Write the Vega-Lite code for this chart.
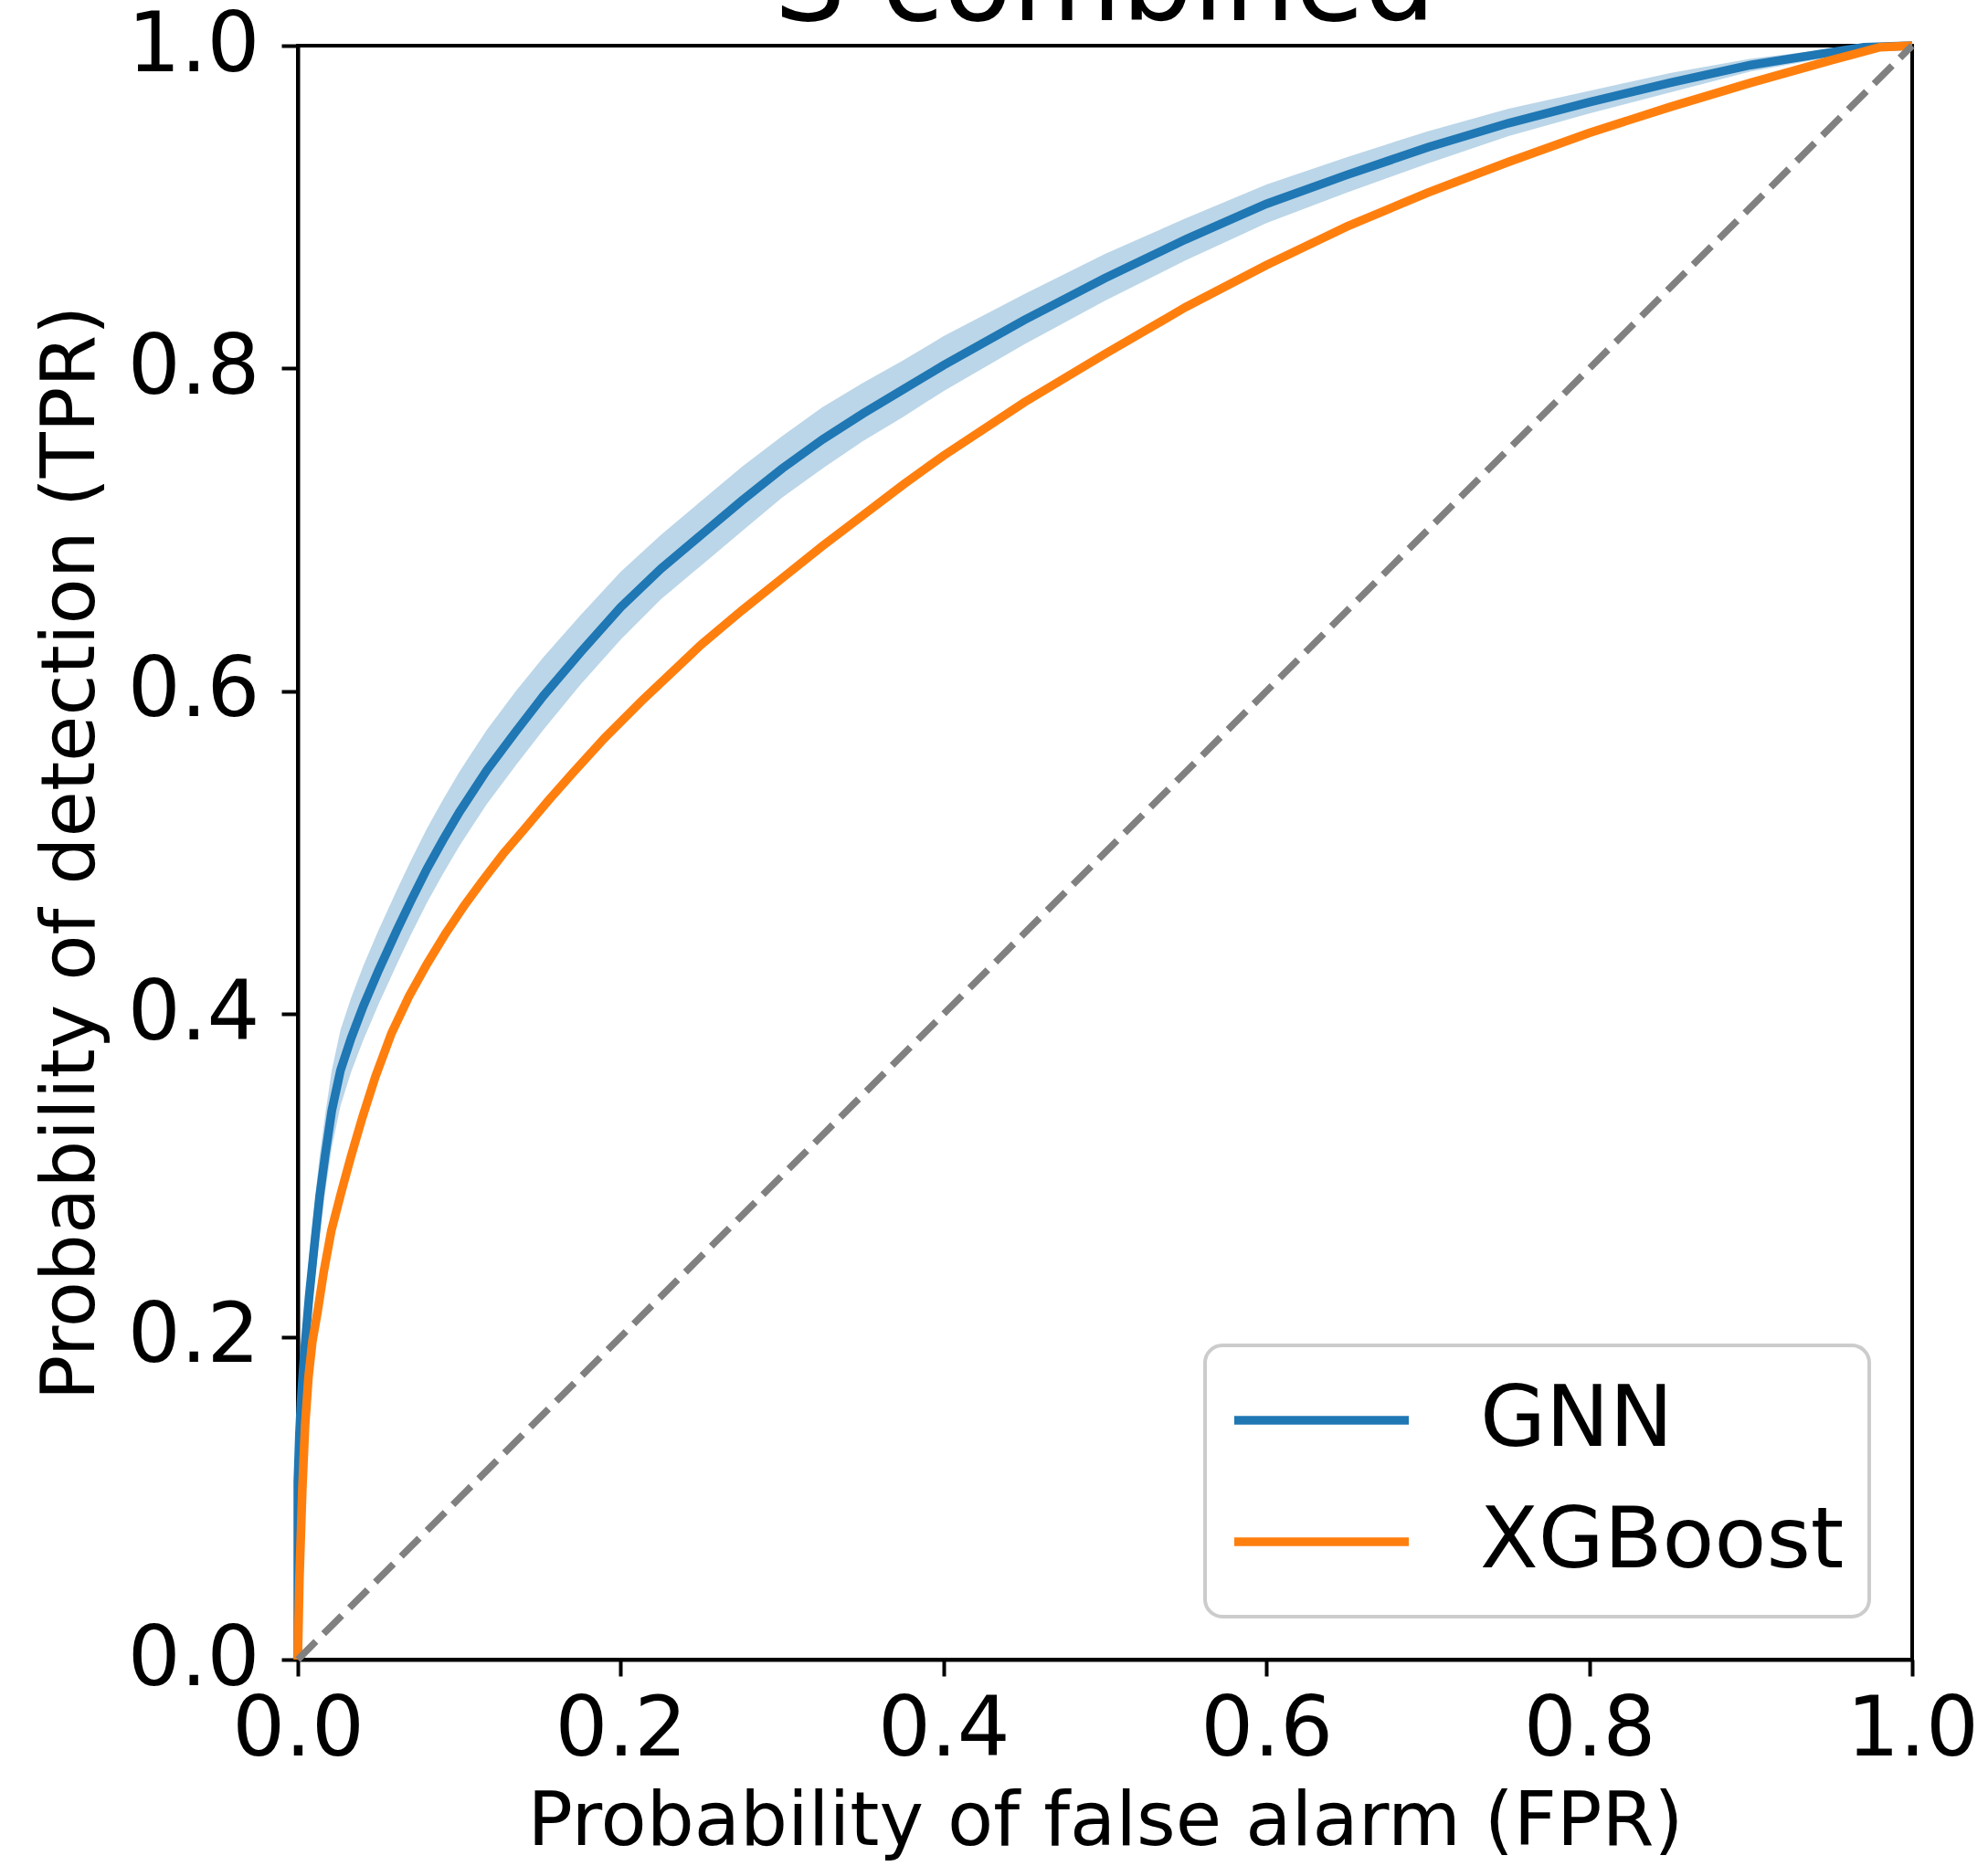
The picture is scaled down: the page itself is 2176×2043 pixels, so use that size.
{
  "$schema": "https://vega.github.io/schema/vega-lite/v6.json",
  "width": 1767,
  "height": 1767,
  "autosize": "none",
  "padding": {"left": 326, "top": 50, "right": 83, "bottom": 226},
  "background": "white",
  "title": {"text": "S combined", "fontSize": 123, "font": "DejaVu Sans", "fontWeight": "normal", "color": "black", "offset": -44, "anchor": "middle", "frame": "group"},
  "config": {
    "view": {"stroke": "black", "strokeWidth": 4},
    "axis": {"domainColor": "black", "domainWidth": 4, "tickColor": "black", "tickWidth": 4, "tickSize": 18, "labelFont": "DejaVu Sans", "labelFontSize": 91, "labelColor": "black", "titleFont": "DejaVu Sans", "titleFontSize": 82, "titleFontWeight": "normal", "titleColor": "black", "grid": false, "labelFlush": false, "labelOverlap": false, "zindex": 1},
    "legend": {"orient": "bottom-right", "offset": 47, "fillColor": "white", "strokeColor": "#cccccc", "strokeWidth": 4, "cornerRadius": 19, "padding": 27, "symbolType": "stroke", "symbolSize": 36481, "symbolStrokeWidth": 9.5, "labelFont": "DejaVu Sans", "labelFontSize": 93, "labelColor": "black", "labelOffset": 73, "labelLimit": 1000, "rowPadding": 23, "clipHeight": 110, "title": null}
  },
  "datasets": {
    "band": [
      {"fpr": 0.0, "lo": 0.0, "hi": 0.15},
      {"fpr": 0.001, "lo": 0.115, "hi": 0.165},
      {"fpr": 0.002, "lo": 0.135, "hi": 0.185},
      {"fpr": 0.004, "lo": 0.165, "hi": 0.215},
      {"fpr": 0.007, "lo": 0.2, "hi": 0.25},
      {"fpr": 0.0104, "lo": 0.234, "hi": 0.283},
      {"fpr": 0.0135, "lo": 0.263, "hi": 0.312},
      {"fpr": 0.017, "lo": 0.29, "hi": 0.338},
      {"fpr": 0.021, "lo": 0.317, "hi": 0.365},
      {"fpr": 0.0264, "lo": 0.343, "hi": 0.39},
      {"fpr": 0.033, "lo": 0.364, "hi": 0.41},
      {"fpr": 0.0406, "lo": 0.384, "hi": 0.43},
      {"fpr": 0.05, "lo": 0.406, "hi": 0.452},
      {"fpr": 0.0614, "lo": 0.431, "hi": 0.477},
      {"fpr": 0.07, "lo": 0.449, "hi": 0.495},
      {"fpr": 0.08, "lo": 0.469, "hi": 0.515},
      {"fpr": 0.09, "lo": 0.487, "hi": 0.533},
      {"fpr": 0.1, "lo": 0.504, "hi": 0.55},
      {"fpr": 0.117, "lo": 0.53, "hi": 0.576},
      {"fpr": 0.135, "lo": 0.554, "hi": 0.6},
      {"fpr": 0.152, "lo": 0.576, "hi": 0.621},
      {"fpr": 0.175, "lo": 0.604, "hi": 0.647},
      {"fpr": 0.2, "lo": 0.632, "hi": 0.674},
      {"fpr": 0.225, "lo": 0.657, "hi": 0.697},
      {"fpr": 0.25, "lo": 0.678, "hi": 0.718},
      {"fpr": 0.275, "lo": 0.699, "hi": 0.739},
      {"fpr": 0.3, "lo": 0.72, "hi": 0.758},
      {"fpr": 0.325, "lo": 0.738, "hi": 0.776},
      {"fpr": 0.35, "lo": 0.755, "hi": 0.791},
      {"fpr": 0.375, "lo": 0.77, "hi": 0.805},
      {"fpr": 0.4, "lo": 0.786, "hi": 0.82},
      {"fpr": 0.45, "lo": 0.815, "hi": 0.846},
      {"fpr": 0.5, "lo": 0.842, "hi": 0.871},
      {"fpr": 0.55, "lo": 0.867, "hi": 0.893},
      {"fpr": 0.6, "lo": 0.89, "hi": 0.914},
      {"fpr": 0.65, "lo": 0.909, "hi": 0.931},
      {"fpr": 0.7, "lo": 0.927, "hi": 0.947},
      {"fpr": 0.75, "lo": 0.944, "hi": 0.961},
      {"fpr": 0.8, "lo": 0.958, "hi": 0.972},
      {"fpr": 0.85, "lo": 0.971, "hi": 0.983},
      {"fpr": 0.9, "lo": 0.984, "hi": 0.992},
      {"fpr": 0.95, "lo": 0.993, "hi": 0.998},
      {"fpr": 0.97, "lo": 0.997, "hi": 1.0},
      {"fpr": 1.0, "lo": 1.0, "hi": 1.0}
    ],
    "curves": [
      {"model": "GNN", "fpr": 0.0, "tpr": 0.0},
      {"model": "GNN", "fpr": 0.0, "tpr": 0.11},
      {"model": "GNN", "fpr": 0.001, "tpr": 0.14},
      {"model": "GNN", "fpr": 0.002, "tpr": 0.16},
      {"model": "GNN", "fpr": 0.004, "tpr": 0.19},
      {"model": "GNN", "fpr": 0.007, "tpr": 0.225},
      {"model": "GNN", "fpr": 0.0104, "tpr": 0.258},
      {"model": "GNN", "fpr": 0.0135, "tpr": 0.287},
      {"model": "GNN", "fpr": 0.017, "tpr": 0.313},
      {"model": "GNN", "fpr": 0.021, "tpr": 0.34},
      {"model": "GNN", "fpr": 0.0264, "tpr": 0.365},
      {"model": "GNN", "fpr": 0.033, "tpr": 0.385},
      {"model": "GNN", "fpr": 0.0406, "tpr": 0.405},
      {"model": "GNN", "fpr": 0.05, "tpr": 0.427},
      {"model": "GNN", "fpr": 0.0614, "tpr": 0.452},
      {"model": "GNN", "fpr": 0.07, "tpr": 0.47},
      {"model": "GNN", "fpr": 0.08, "tpr": 0.49},
      {"model": "GNN", "fpr": 0.09, "tpr": 0.508},
      {"model": "GNN", "fpr": 0.1, "tpr": 0.525},
      {"model": "GNN", "fpr": 0.117, "tpr": 0.551},
      {"model": "GNN", "fpr": 0.135, "tpr": 0.575},
      {"model": "GNN", "fpr": 0.152, "tpr": 0.597},
      {"model": "GNN", "fpr": 0.175, "tpr": 0.624},
      {"model": "GNN", "fpr": 0.2, "tpr": 0.652},
      {"model": "GNN", "fpr": 0.225, "tpr": 0.676},
      {"model": "GNN", "fpr": 0.25, "tpr": 0.697},
      {"model": "GNN", "fpr": 0.275, "tpr": 0.718},
      {"model": "GNN", "fpr": 0.3, "tpr": 0.738},
      {"model": "GNN", "fpr": 0.325, "tpr": 0.756},
      {"model": "GNN", "fpr": 0.35, "tpr": 0.772},
      {"model": "GNN", "fpr": 0.375, "tpr": 0.787},
      {"model": "GNN", "fpr": 0.4, "tpr": 0.802},
      {"model": "GNN", "fpr": 0.45, "tpr": 0.83},
      {"model": "GNN", "fpr": 0.5, "tpr": 0.856},
      {"model": "GNN", "fpr": 0.55, "tpr": 0.88},
      {"model": "GNN", "fpr": 0.6, "tpr": 0.902},
      {"model": "GNN", "fpr": 0.65, "tpr": 0.92},
      {"model": "GNN", "fpr": 0.7, "tpr": 0.937},
      {"model": "GNN", "fpr": 0.75, "tpr": 0.952},
      {"model": "GNN", "fpr": 0.8, "tpr": 0.965},
      {"model": "GNN", "fpr": 0.85, "tpr": 0.977},
      {"model": "GNN", "fpr": 0.9, "tpr": 0.988},
      {"model": "GNN", "fpr": 0.95, "tpr": 0.996},
      {"model": "GNN", "fpr": 0.97, "tpr": 0.999},
      {"model": "GNN", "fpr": 1.0, "tpr": 1.0},
      {"model": "XGBoost", "fpr": 0.0, "tpr": 0.0},
      {"model": "XGBoost", "fpr": 0.001, "tpr": 0.05},
      {"model": "XGBoost", "fpr": 0.0028, "tpr": 0.106},
      {"model": "XGBoost", "fpr": 0.0045, "tpr": 0.145},
      {"model": "XGBoost", "fpr": 0.0066, "tpr": 0.175},
      {"model": "XGBoost", "fpr": 0.009, "tpr": 0.197},
      {"model": "XGBoost", "fpr": 0.0123, "tpr": 0.216},
      {"model": "XGBoost", "fpr": 0.016, "tpr": 0.24},
      {"model": "XGBoost", "fpr": 0.0208, "tpr": 0.266},
      {"model": "XGBoost", "fpr": 0.027, "tpr": 0.29},
      {"model": "XGBoost", "fpr": 0.033, "tpr": 0.312},
      {"model": "XGBoost", "fpr": 0.04, "tpr": 0.336},
      {"model": "XGBoost", "fpr": 0.048, "tpr": 0.361},
      {"model": "XGBoost", "fpr": 0.058, "tpr": 0.388},
      {"model": "XGBoost", "fpr": 0.0689, "tpr": 0.411},
      {"model": "XGBoost", "fpr": 0.08, "tpr": 0.431},
      {"model": "XGBoost", "fpr": 0.0916, "tpr": 0.45},
      {"model": "XGBoost", "fpr": 0.103, "tpr": 0.467},
      {"model": "XGBoost", "fpr": 0.114, "tpr": 0.482},
      {"model": "XGBoost", "fpr": 0.127, "tpr": 0.499},
      {"model": "XGBoost", "fpr": 0.1407, "tpr": 0.515},
      {"model": "XGBoost", "fpr": 0.155, "tpr": 0.532},
      {"model": "XGBoost", "fpr": 0.17, "tpr": 0.549},
      {"model": "XGBoost", "fpr": 0.19, "tpr": 0.571},
      {"model": "XGBoost", "fpr": 0.213, "tpr": 0.594},
      {"model": "XGBoost", "fpr": 0.25, "tpr": 0.629},
      {"model": "XGBoost", "fpr": 0.275, "tpr": 0.65},
      {"model": "XGBoost", "fpr": 0.3, "tpr": 0.67},
      {"model": "XGBoost", "fpr": 0.325, "tpr": 0.69},
      {"model": "XGBoost", "fpr": 0.35, "tpr": 0.709},
      {"model": "XGBoost", "fpr": 0.375, "tpr": 0.728},
      {"model": "XGBoost", "fpr": 0.4, "tpr": 0.746},
      {"model": "XGBoost", "fpr": 0.45, "tpr": 0.779},
      {"model": "XGBoost", "fpr": 0.5, "tpr": 0.809},
      {"model": "XGBoost", "fpr": 0.55, "tpr": 0.838},
      {"model": "XGBoost", "fpr": 0.6, "tpr": 0.864},
      {"model": "XGBoost", "fpr": 0.65, "tpr": 0.888},
      {"model": "XGBoost", "fpr": 0.7, "tpr": 0.909},
      {"model": "XGBoost", "fpr": 0.75, "tpr": 0.928},
      {"model": "XGBoost", "fpr": 0.8, "tpr": 0.946},
      {"model": "XGBoost", "fpr": 0.85, "tpr": 0.962},
      {"model": "XGBoost", "fpr": 0.9, "tpr": 0.977},
      {"model": "XGBoost", "fpr": 0.95, "tpr": 0.991},
      {"model": "XGBoost", "fpr": 0.98, "tpr": 0.999},
      {"model": "XGBoost", "fpr": 1.0, "tpr": 1.0}
    ],
    "diag": [
      {"fpr": 0.0, "tpr": 0.0},
      {"fpr": 1.0, "tpr": 1.0}
    ]
  },
  "layer": [
    {
      "data": {"name": "band"},
      "mark": {"type": "area", "color": "#1f77b4", "opacity": 0.3},
      "encoding": {
        "x": {"field": "fpr", "type": "quantitative", "scale": {"domain": [0, 1], "nice": false}, "axis": {"title": "Probability of false alarm (FPR)", "values": [0, 0.2, 0.4, 0.6, 0.8, 1.0], "format": ".1f", "labelPadding": 14, "titlePadding": 15}},
        "y": {"field": "lo", "type": "quantitative", "scale": {"domain": [0, 1], "nice": false}, "axis": {"title": "Probability of detection (TPR)", "values": [0, 0.2, 0.4, 0.6, 0.8, 1.0], "format": ".1f", "labelPadding": 24, "titlePadding": 20}},
        "y2": {"field": "hi"}
      }
    },
    {
      "data": {"name": "curves"},
      "mark": {"type": "line", "strokeWidth": 9.5},
      "encoding": {
        "x": {"field": "fpr", "type": "quantitative", "title": "Probability of false alarm (FPR)"},
        "y": {"field": "tpr", "type": "quantitative", "title": "Probability of detection (TPR)"},
        "color": {"field": "model", "type": "nominal", "scale": {"domain": ["GNN", "XGBoost"], "range": ["#1f77b4", "#ff7f0e"]}, "legend": {"title": null}},
        "order": {"field": "fpr", "type": "quantitative"}
      }
    },
    {
      "data": {"name": "diag"},
      "mark": {"type": "line", "strokeWidth": 7.5, "color": "#808080", "strokeDash": [28, 12]},
      "encoding": {
        "x": {"field": "fpr", "type": "quantitative", "title": "Probability of false alarm (FPR)"},
        "y": {"field": "tpr", "type": "quantitative", "title": "Probability of detection (TPR)"}
      }
    }
  ]
}
